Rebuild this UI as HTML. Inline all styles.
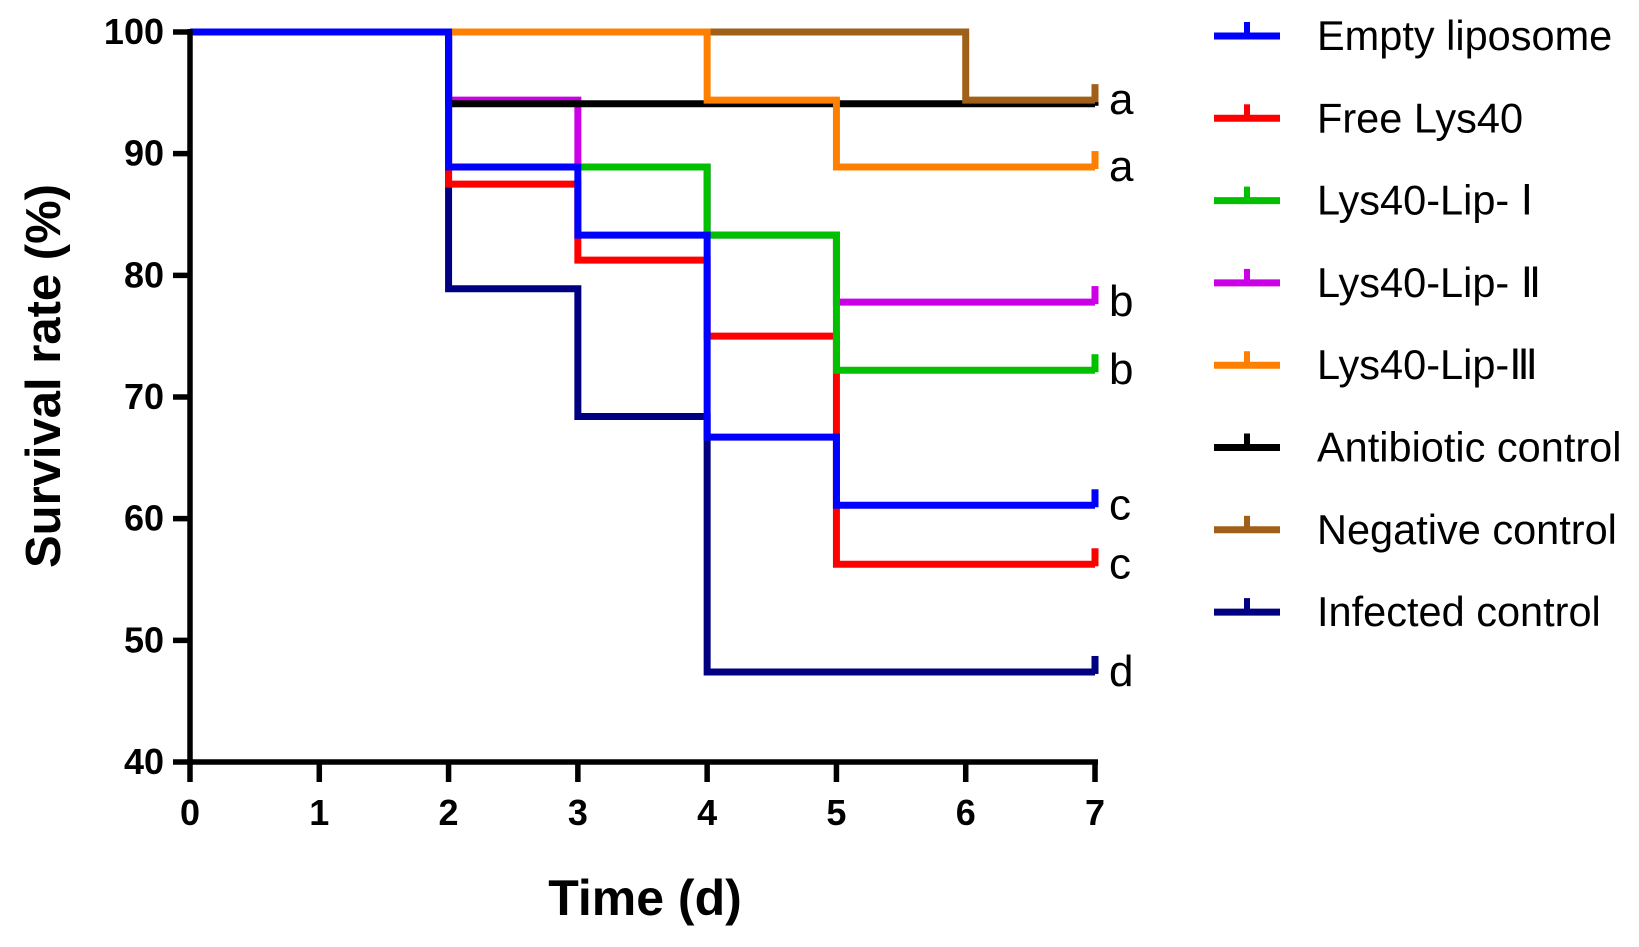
<!DOCTYPE html>
<html><head><meta charset="utf-8"><style>
body{margin:0;background:#fff;}
svg text{font-family:"Liberation Sans",Arial,sans-serif;}
</style></head><body>
<svg id="chart" width="1639" height="942" xmlns="http://www.w3.org/2000/svg"></svg>
<script>
const days=[0,1,2,3,4,5,6,7];
const yTicks=[40,50,60,70,80,90,100];
const seriesNames=["Empty liposome","Free Lys40","Lys40-Lip- Ⅰ","Lys40-Lip- Ⅱ","Lys40-Lip-Ⅲ","Antibiotic control","Negative control","Infected control"];
const seriesColors=["#0000ff","#ff0000","#00c000","#cc00e6","#ff8000","#000000","#a0601a","#000080"];
const sigLetters=["c","c","b","b","a","","a","d"];
// survival values at each day 0..7
const emptyLip=[100,100,88.9,83.3,66.7,61.1,61.1,61.1];
const freeLys=[100,100,87.5,81.25,75,56.25,56.25,56.25];
const lipI=[100,100,88.9,88.9,83.3,72.2,72.2,72.2];
const lipII=[100,100,94.4,88.9,83.3,77.8,77.8,77.8];
const lipIII=[100,100,100,100,94.4,88.9,88.9,88.9];
const antibiotic=[100,100,94.1,94.1,94.1,94.1,94.1,94.1];
const negative=[100,100,100,100,100,100,94.4,94.4];
const infected=[100,100,78.9,68.4,47.4,47.4,47.4,47.4];
const allSeries=[emptyLip,freeLys,lipI,lipII,lipIII,antibiotic,negative,infected];

const svg=document.getElementById('chart');
const NS='http://www.w3.org/2000/svg';
const X0=190,X1=1095,Y0=762,Y1=32;
const xs=d=>X0+(d-0)/(7-0)*(X1-X0);
const ys=v=>Y0-(v-40)/(100-40)*(Y0-Y1);
function mk(tag,attrs,parent){const e=document.createElementNS(NS,tag);for(const k in attrs)e.setAttribute(k,attrs[k]);(parent||svg).appendChild(e);return e;}

const order=[7,1,3,2,5,6,4,0];
order.forEach(i=>{
  const v=allSeries[i];
  let d=`M${xs(0)},${ys(v[0])}`;
  for(let k=1;k<days.length;k++){d+=` H${xs(days[k])} V${ys(v[k])}`;}
  const p=mk('path',{d:d,fill:'none',stroke:seriesColors[i],'stroke-width':7,'stroke-linejoin':'miter'});
  
  
  const last=v[v.length-1];
  const c=mk('line',{x1:xs(7),x2:xs(7),y1:ys(last)+2,y2:ys(last)-16,stroke:seriesColors[i],'stroke-width':7});
  
  
  if(sigLetters[i]){
    const t=mk('text',{x:xs(7)+14,y:ys(last)+14,'font-size':44});
    t.textContent=sigLetters[i];
    
    
  }
});

const ax=mk('line',{x1:X0,x2:X0,y1:Y1-3,y2:Y0+3,stroke:'#000','stroke-width':5.5});


const bx=mk('line',{x1:X0-3,x2:X1+3,y1:Y0,y2:Y0,stroke:'#000','stroke-width':5.5});


yTicks.forEach(v=>{
  const l=mk('line',{x1:X0-17,x2:X0,y1:ys(v),y2:ys(v),stroke:'#000','stroke-width':5.5});
  
  
  const t=mk('text',{x:X0-26,y:ys(v)+12,'font-size':36,'font-weight':'bold','text-anchor':'end'});
  t.textContent=v;
  
  
});
days.forEach(d=>{
  const l=mk('line',{x1:xs(d),x2:xs(d),y1:Y0,y2:Y0+20,stroke:'#000','stroke-width':5.5});
  
  
  const t=mk('text',{x:xs(d),y:Y0+63,'font-size':36,'font-weight':'bold','text-anchor':'middle'});
  t.textContent=d;
  
  
});
const xt=mk('text',{x:645,y:915,'font-size':50,'font-weight':'bold','text-anchor':'middle'});
xt.textContent='Time (d)';


const yt=mk('text',{x:0,y:0,'font-size':49,'font-weight':'bold','text-anchor':'middle',transform:'translate(60,376) rotate(-90)'});
yt.textContent='Survival rate (%)';



seriesNames.forEach((n,i)=>{
  const y=36+82.3*i;
  const g=mk('g',{});
  
  
  mk('line',{x1:1214,x2:1280,y1:y,y2:y,stroke:seriesColors[i],'stroke-width':7},g);
  mk('line',{x1:1247,x2:1247,y1:y,y2:y-14,stroke:seriesColors[i],'stroke-width':6},g);
  const t=mk('text',{x:1317,y:y+14,'font-size':41.5},g);
  t.textContent=n;
});
</script>
</body></html>
